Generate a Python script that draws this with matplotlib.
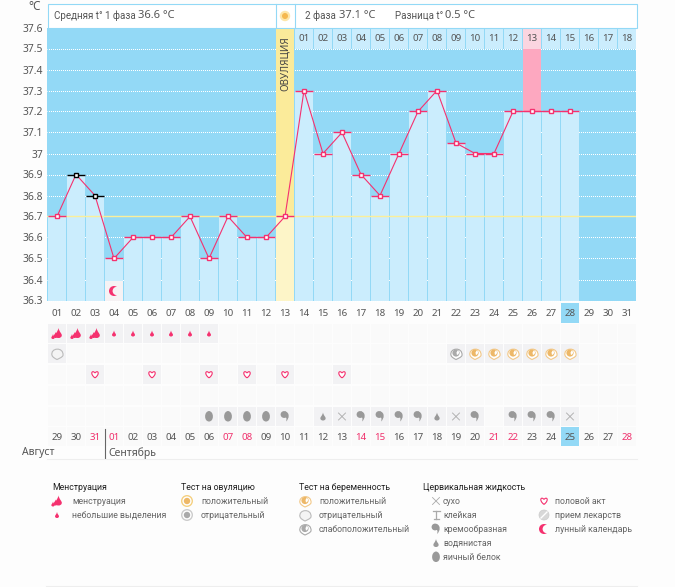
import matplotlib
matplotlib.use('Agg')
import matplotlib.pyplot as plt
from matplotlib.patches import Rectangle, Circle, PathPatch, Wedge
from matplotlib.path import Path

plt.rcParams['font.family'] = ['Noto Sans', 'DejaVu Sans']

# data
temps = [36.7, 36.9, 36.8, 36.5, 36.6, 36.6, 36.6, 36.7, 36.5, 36.7, 36.6, 36.6, 36.7, 37.3,
         37.0, 37.1, 36.9, 36.8, 37.0, 37.2, 37.3, 37.05, 37.0, 37.0, 37.2, 37.2, 37.2, 37.2]
days_top = ['%02d' % d for d in range(1, 32)]
cycle_days = ['%02d' % d for d in range(1, 19)]
dates = ['29', '30', '31'] + ['%02d' % d for d in range(1, 29)]
red_dates = ['31', '01', '07', '08', '14', '15', '21', '22', '28']
y_ticks = [36.3, 36.4, 36.5, 36.6, 36.7, 36.8, 36.9, 37, 37.1, 37.2, 37.3, 37.4, 37.5, 37.6]
y_labels = ['36.3', '36.4', '36.5', '36.6', '36.7', '36.8', '36.9', '37', '37.1', '37.2', '37.3', '37.4', '37.5', '37.6']
black_days = [2, 3]
cover_line = 36.7
ovulation_day = 13
peak_day = 26
today_col = 28

heavy_days = [1, 2, 3]
light_days = [4, 5, 6, 7, 8, 9]
preg_neg_days = [1]
preg_weak_days = [22]
preg_pos_days = [23, 24, 25, 26, 27, 28]
sex_days = [3, 6, 9, 11, 13, 16]
egg_days = [9, 10, 11, 12]
cream_days = [13, 17, 18, 19, 20, 23, 25, 26, 27]
water_days = [15, 21]
dry_days = [16, 22, 28]
moon_day = 4

BLUE = '#93D9F6'
LIGHT = '#CBEDFD'
PINK = '#F5316F'
GREY = '#999999'
TXT = '#555555'
GAP = 1 / 19  # one pixel separator on the left of each column

fig = plt.figure(figsize=(6.75, 5.87), dpi=100, facecolor='#FDFDFD')
ax = fig.add_axes([47 / 675, (587 - 300.5) / 587, 589 / 675, 273 / 587])
ax.set_xlim(0, 31)
ax.set_ylim(36.3, 37.6)
ax.set_facecolor(BLUE)
for s in ax.spines.values():
    s.set_visible(False)

# grid sits under the bars so that it only shows in the gaps
for v in y_ticks[:-1]:
    ax.axhline(v, color='white', lw=0.72, ls=(0.5, (1, 1)), zorder=1, clip_on=False)

xs = [i + 0.5 + GAP / 2 for i in range(len(temps))]
for i, t in enumerate(temps):
    if i + 1 == ovulation_day:
        continue
    ax.bar(i + GAP, t - 36.3, bottom=36.3, width=1 - GAP, align='edge', color=LIGHT, zorder=2)

# ovulation column
ov_left = ovulation_day - 1 + GAP
ax.bar(ov_left, 1.3, bottom=36.3, width=1 - GAP, align='edge', color='#FBEB9A', zorder=2)
ax.bar(ov_left, 0.4, bottom=36.3, width=1 - GAP, align='edge', color='#FDF5C8', zorder=2)
# peak column
ax.bar(peak_day - 1 + GAP, 37.5 - 37.2, bottom=37.2, width=1 - GAP, align='edge', color='#FDA8C0', zorder=2)
# top cells with cycle days
for i, d in enumerate(cycle_days):
    c = '#FBD5E0' if i + 14 == peak_day else LIGHT
    ax.bar(i + 13 + GAP, 0.1, bottom=37.5, width=1 - GAP, align='edge', color=c, zorder=3)
    ax.text(i + 13.5 + GAP / 2, 37.55, d, ha='center', va='center', fontsize=7, color=TXT, zorder=4)
ax.text(ovulation_day - 0.5 + GAP / 2, 37.43, 'ОВУЛЯЦИЯ', rotation=90, ha='center', va='center',
        fontsize=7.1, color='#444444', zorder=4)

ax.axhline(cover_line, color='#FBEF9A', lw=1, zorder=3)
ax.plot(xs, temps, color=PINK, lw=0.8, zorder=5, clip_on=False)
for i, t in enumerate(temps):
    c = 'black' if i + 1 in black_days else PINK
    ax.plot([i + GAP, i + 1], [t, t], color=c, lw=1, zorder=5, solid_capstyle='butt')
    ax.plot(xs[i], t, 's', ms=3.4, mfc='white', mec=c, mew=1, zorder=6, clip_on=False)

ax.set_xticks([])
ax.set_yticks(y_ticks)
ax.set_yticklabels(y_labels, fontsize=7.4, color=TXT)
ax.tick_params(length=0)
ax.tick_params(axis='y', pad=3)

# overlay in pixels for header, icon table and legend
ov = fig.add_axes([0, 0, 1, 1], facecolor='none')
ov.set_xlim(0, 675)
ov.set_ylim(587, 0)
ov.axis('off')


def col_left(day):
    return 47 + 19 * (day - 1) + 1


def col_x(day):
    return col_left(day) + 9


def drop(x, y, h, color):
    w = h * 0.33
    verts = [(x, y - h / 2), (x + w * 0.25, y - h * 0.1), (x + w, y + h * 0.05), (x + w, y + h * 0.22),
             (x + w, y + h * 0.42), (x + w * 0.5, y + h / 2), (x, y + h / 2),
             (x - w * 0.5, y + h / 2), (x - w, y + h * 0.42), (x - w, y + h * 0.22),
             (x - w, y + h * 0.05), (x - w * 0.25, y - h * 0.1), (x, y - h / 2)]
    codes = [Path.MOVETO] + [Path.CURVE4] * 12
    ov.add_patch(PathPatch(Path(verts, codes), fc=color, ec='none'))


def heavy(x, y):
    drop(x + 1.5, y - 0.5, 10, PINK)
    drop(x - 1.5, y + 1.5, 6, PINK)
    drop(x - 4, y + 3, 5, PINK)


def light(x, y):
    drop(x, y, 6, PINK)


def egg(x, y):
    ov.add_patch(PathPatch(Path([(x, y - 5.5), (x + 5.2, y - 5), (x + 5.2, y + 5), (x, y + 5),
                                 (x - 5.2, y + 5), (x - 5.2, y - 5), (x, y - 5.5)],
                                [Path.MOVETO] + [Path.CURVE4] * 6), fc=GREY, ec='none'))


def comma(x, y):
    ov.add_patch(Circle((x - 1, y - 2), 3.4, fc=GREY, ec='none'))
    verts = [(x + 0, y - 5.2), (x + 5, y - 4), (x + 4.5, y + 2), (x + 1, y + 5),
             (x + 2, y + 2), (x + 1.5, y + 0), (x - 1, y + 1),
             (x - 1, y + 1), (x + 0, y - 5.2), (x + 0, y - 5.2)]
    ov.add_patch(PathPatch(Path(verts, [Path.MOVETO] + [Path.CURVE4] * 9), fc=GREY, ec='none'))


def dry(x, y):
    ov.plot([x - 3.5, x + 3.5], [y - 3.5, y + 3.5], color='#AAAAAA', lw=0.6)
    ov.plot([x - 3.5, x + 3.5], [y + 3.5, y - 3.5], color='#AAAAAA', lw=0.6)


def sticky(x, y):
    ov.plot([x - 3.5, x + 3.5], [y - 4, y - 4], color='#AAAAAA', lw=0.9)
    ov.plot([x - 2.5, x + 2.5], [y + 4, y + 4], color='#AAAAAA', lw=0.9)
    ov.plot([x, x], [y - 4, y + 4], color='#AAAAAA', lw=0.9)


def heart(x, y):
    verts = [(x, y + 3.4), (x - 5.4, y - 0.6), (x - 3, y - 5), (x, y - 1.6),
             (x + 3, y - 5), (x + 5.4, y - 0.6), (x, y + 3.4)]
    ov.add_patch(PathPatch(Path(verts, [Path.MOVETO] + [Path.CURVE4] * 6), fc='white', ec=PINK, lw=0.8))


def preg(x, y, fill, edge, inner=None):
    ov.add_patch(PathPatch(Path([(x - 5, y + 2), (x - 7, y - 6), (x + 7, y - 7), (x + 6, y + 2),
                                 (x + 5, y + 4), (x + 2, y + 5), (x, y + 6), (x - 2, y + 5), (x - 4, y + 4), (x - 5, y + 2)],
                                [Path.MOVETO] + [Path.CURVE4] * 9), fc=fill, ec=edge, lw=0.8))
    if inner:
        ov.add_patch(Circle((x, y - 0.5), 3.6, fc=inner, ec='none'))
        ov.add_patch(Wedge((x + 0.5, y - 1), 2.5, 300, 80, fc='white', ec='none'))


def test_dot(x, y, outer, inner):
    ov.add_patch(Circle((x, y), 5.3, fc='white', ec=outer, lw=1))
    ov.add_patch(Circle((x, y), 3.2, fc=inner, ec='none'))


def moon(x, y, bg='#FDFDFD'):
    ov.add_patch(Circle((x, y), 5, fc=PINK, ec='none'))
    ov.add_patch(Circle((x + 2.8, y), 4.2, fc=bg, ec='none'))


def pill(x, y):
    ov.add_patch(Circle((x, y), 5, fc='#D8D8D8', ec='#CCCCCC', lw=0.5))
    ov.plot([x - 3, x + 3], [y + 3, y - 3], color='white', lw=1)


# header box
ov.add_patch(Rectangle((47.5, 3.5), 589, 24, fc='white', ec=BLUE, lw=0.8))
ov.plot([275.5, 275.5], [3.5, 27.5], color=BLUE, lw=0.8)
ov.plot([294.5, 294.5], [3.5, 27.5], color=BLUE, lw=0.8)
ov.add_patch(Circle((285, 16), 5.2, fc='#FDE6A8', ec='none'))
ov.add_patch(Circle((285, 16), 3, fc='#F5B84E', ec='none'))
ov.text(35, 6.5, '°C', ha='center', va='center', fontsize=8.5, color=TXT)
ov.text(54, 15.5, 'Средняя t° 1 фаза', ha='left', va='center', fontsize=7, color=TXT, family='Roboto')
ov.text(138, 15.5, '36.6 °C', ha='left', va='center', fontsize=8, color=TXT)
ov.text(305, 15.5, '2 фаза', ha='left', va='center', fontsize=7, color=TXT, family='Roboto')
ov.text(339, 15.5, '37.1 °C', ha='left', va='center', fontsize=8, color=TXT)
ov.text(395, 15.5, 'Разница t°', ha='left', va='center', fontsize=7, color=TXT, family='Roboto')
ov.text(445, 15.5, '0.5 °C', ha='left', va='center', fontsize=8, color=TXT)

# today cell under the axis, day labels and moon cell
ov.add_patch(Rectangle((col_left(today_col), 303), 18, 20, fc=BLUE, ec='none', zorder=0))
for i, d in enumerate(days_top):
    ov.text(col_x(i + 1), 313, d, ha='center', va='center', fontsize=7, color=TXT)
ov.add_patch(Rectangle((col_left(moon_day), 281), 18, 20, fc='#F6F2F4', ec='none', zorder=0))
moon(col_x(moon_day), 291, bg='#F6F2F4')

# icon table
row_tops = [324, 344, 365, 386, 407, 427]
for top in row_tops:
    for d in range(1, 32):
        ov.add_patch(Rectangle((col_left(d), top), 18, 19, fc='#FAFAFA', ec='none', zorder=0))


def fill_cells(days, row, draw):
    top = row_tops[row]
    for d in days:
        ov.add_patch(Rectangle((col_left(d), top), 18, 19, fc='#F2F2F4', ec='none', zorder=0))
        draw(col_x(d), top + 9.5)


fill_cells(heavy_days, 0, heavy)
fill_cells(light_days, 0, light)
fill_cells(preg_neg_days, 1, lambda x, y: preg(x, y, '#F4F4F4', '#BBBBBB'))
fill_cells(preg_weak_days, 1, lambda x, y: preg(x, y, 'white', '#AAAAAA', '#AAAAAA'))
fill_cells(preg_pos_days, 1, lambda x, y: preg(x, y, 'white', '#F2C888', '#EDB868'))
fill_cells(sex_days, 2, heart)
fill_cells(egg_days, 4, egg)
fill_cells(cream_days, 4, comma)
fill_cells(water_days, 4, lambda x, y: drop(x, y, 8, GREY))
fill_cells(dry_days, 4, dry)

# date row
ov.add_patch(Rectangle((col_left(today_col), 427), 18, 19, fc=BLUE, ec='none', zorder=1))
for i, d in enumerate(dates):
    c = '#F0306C' if d in red_dates else TXT
    ov.text(col_x(i + 1), 437.5, d, ha='center', va='center', fontsize=7, color=c)
ov.plot([104.5, 104.5], [429, 458], color='#666666', lw=0.8)
ov.text(22, 453, 'Август', ha='left', va='center', fontsize=7.5, color=TXT)
ov.text(108, 453, 'Сентябрь', ha='left', va='center', fontsize=7.5, color=TXT)
ov.plot([47, 637], [458.5, 458.5], color='#EEEEEE', lw=0.8)
ov.plot([46, 637], [586, 586], color='#EEEEEE', lw=0.8)

# legend
LEG = '#666666'
leg_rows = [501, 515, 529, 543, 557]
for tx, title in [(52, 'Менструация'), (181, 'Тест на овуляцию'), (299, 'Тест на беременность'), (423, 'Цервикальная жидкость')]:
    ov.text(tx, 487, title, va='center', fontsize=6.3, color='#222222', family='Roboto')


def legend_block(items, icon_x, text_x):
    for row, (draw, label) in enumerate(items):
        draw(icon_x, leg_rows[row])
        ov.text(text_x, leg_rows[row], label, va='center', fontsize=6.3, color=LEG, family='Roboto')


legend_block([(heavy, 'менструация'), (light, 'небольшие выделения')], 57, 72)
legend_block([(lambda x, y: test_dot(x, y, '#F5D080', '#EDB868'), 'положительный'),
              (lambda x, y: test_dot(x, y, '#CCCCCC', '#AAAAAA'), 'отрицательный')], 187, 201)
legend_block([(lambda x, y: preg(x, y, 'white', '#F2C888', '#EDB868'), 'положительный'),
              (lambda x, y: preg(x, y, '#F4F4F4', '#BBBBBB'), 'отрицательный'),
              (lambda x, y: preg(x, y, 'white', '#AAAAAA', '#AAAAAA'), 'слабоположительный')], 305, 319)
legend_block([(dry, 'сухо'), (sticky, 'клейкая'), (comma, 'кремообразная'),
              (lambda x, y: drop(x, y, 8, GREY), 'водянистая'), (egg, 'яичный белок')], 436, 443)
legend_block([(heart, 'половой акт'), (pill, 'прием лекарств'), (moon, 'лунный календарь')], 544, 555)

fig.savefig('out.png', dpi=100, facecolor=fig.get_facecolor())
